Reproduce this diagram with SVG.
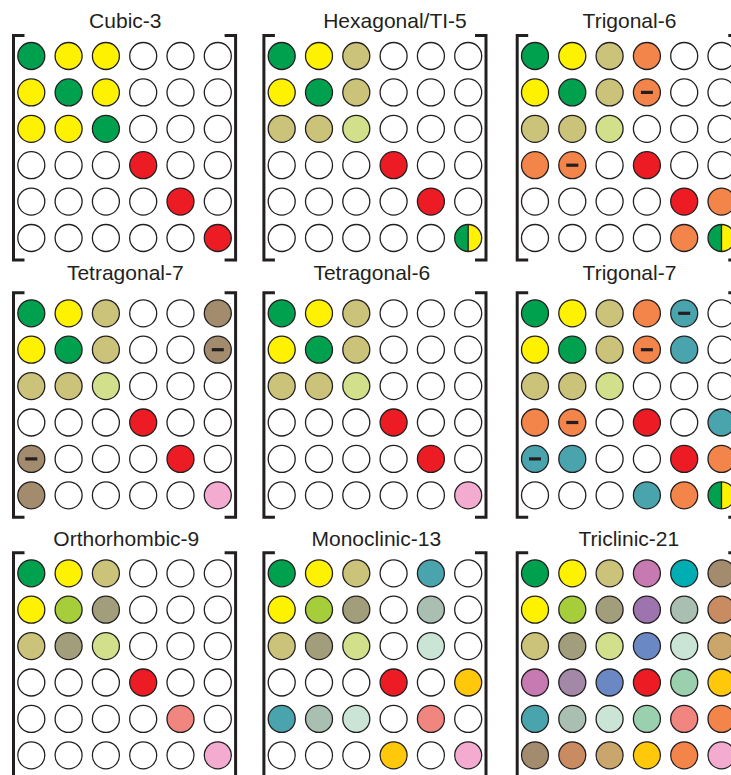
<svg xmlns="http://www.w3.org/2000/svg" width="731" height="775" viewBox="0 0 731 775">
<style>
text{font-family:"Liberation Sans",Arial,sans-serif;font-size:21px;fill:#231f20;text-anchor:middle}
circle{stroke:#231f20;stroke-width:1.3}
.br{fill:none;stroke:#231f20;stroke-width:3}
.w{fill:#fff}.g{fill:#00a14e}.y{fill:#fff200}.k{fill:#ccc37b}.l{fill:#d3e08b}.r{fill:#ed1c24}
.o{fill:#f3844a}.b{fill:#a38b6e}.p{fill:#f3acd0}.t{fill:#4aa4ae}.a{fill:#a6cd3a}.m{fill:#a29e7b}
.s{fill:#f1857f}.gg{fill:#a9bfb2}.mi{fill:#cae5d5}.go{fill:#ffc80b}.pu{fill:#c77ab1}.cy{fill:#00adb2}
.vi{fill:#9e74ae}.bl{fill:#6a89c4}.mv{fill:#a488a8}.mg{fill:#9bd0af}.bo{fill:#c98b61}.ta{fill:#caa66d}
.mn{fill:#231f20}
</style>
<defs>
<path id="brk" class="br" d="M-6.8-20.5H-17.8V204H-6.8M193.3-20.5H204.3V204H193.3"/>
<rect id="minus" x="-6" y="-1.6" width="12" height="3.2" class="mn"/>
<g id="half">
<path d="M0-13.5A13.5 13.5 0 0 0 0 13.5Z" fill="#00a14e"/>
<path d="M0-13.5A13.5 13.5 0 0 1 0 13.5Z" fill="#fff200"/>
<line x1="0" y1="-13.5" x2="0" y2="13.5" stroke="#231f20" stroke-width="1.3"/>
<circle r="13.5" fill="none"/>
</g>
</defs>

<g id="cubic-3">
<text x="125.3" y="27.5">Cubic-3</text>
<g transform="translate(31.3,56)">
<use href="#brk"/>
<circle cx="0" cy="0" r="13.5" class="g"/><circle cx="37.3" cy="0" r="13.5" class="y"/><circle cx="74.6" cy="0" r="13.5" class="y"/><circle cx="111.9" cy="0" r="13.5" class="w"/><circle cx="149.2" cy="0" r="13.5" class="w"/><circle cx="186.5" cy="0" r="13.5" class="w"/>
<circle cx="0" cy="36.4" r="13.5" class="y"/><circle cx="37.3" cy="36.4" r="13.5" class="g"/><circle cx="74.6" cy="36.4" r="13.5" class="y"/><circle cx="111.9" cy="36.4" r="13.5" class="w"/><circle cx="149.2" cy="36.4" r="13.5" class="w"/><circle cx="186.5" cy="36.4" r="13.5" class="w"/>
<circle cx="0" cy="72.8" r="13.5" class="y"/><circle cx="37.3" cy="72.8" r="13.5" class="y"/><circle cx="74.6" cy="72.8" r="13.5" class="g"/><circle cx="111.9" cy="72.8" r="13.5" class="w"/><circle cx="149.2" cy="72.8" r="13.5" class="w"/><circle cx="186.5" cy="72.8" r="13.5" class="w"/>
<circle cx="0" cy="109.2" r="13.5" class="w"/><circle cx="37.3" cy="109.2" r="13.5" class="w"/><circle cx="74.6" cy="109.2" r="13.5" class="w"/><circle cx="111.9" cy="109.2" r="13.5" class="r"/><circle cx="149.2" cy="109.2" r="13.5" class="w"/><circle cx="186.5" cy="109.2" r="13.5" class="w"/>
<circle cx="0" cy="145.6" r="13.5" class="w"/><circle cx="37.3" cy="145.6" r="13.5" class="w"/><circle cx="74.6" cy="145.6" r="13.5" class="w"/><circle cx="111.9" cy="145.6" r="13.5" class="w"/><circle cx="149.2" cy="145.6" r="13.5" class="r"/><circle cx="186.5" cy="145.6" r="13.5" class="w"/>
<circle cx="0" cy="182" r="13.5" class="w"/><circle cx="37.3" cy="182" r="13.5" class="w"/><circle cx="74.6" cy="182" r="13.5" class="w"/><circle cx="111.9" cy="182" r="13.5" class="w"/><circle cx="149.2" cy="182" r="13.5" class="w"/><circle cx="186.5" cy="182" r="13.5" class="r"/>
</g>
</g>

<g id="hexagonal-ti-5">
<text x="395" y="27.5">Hexagonal/TI-5</text>
<g transform="translate(281.7,56)">
<use href="#brk"/>
<circle cx="0" cy="0" r="13.5" class="g"/><circle cx="37.3" cy="0" r="13.5" class="y"/><circle cx="74.6" cy="0" r="13.5" class="k"/><circle cx="111.9" cy="0" r="13.5" class="w"/><circle cx="149.2" cy="0" r="13.5" class="w"/><circle cx="186.5" cy="0" r="13.5" class="w"/>
<circle cx="0" cy="36.4" r="13.5" class="y"/><circle cx="37.3" cy="36.4" r="13.5" class="g"/><circle cx="74.6" cy="36.4" r="13.5" class="k"/><circle cx="111.9" cy="36.4" r="13.5" class="w"/><circle cx="149.2" cy="36.4" r="13.5" class="w"/><circle cx="186.5" cy="36.4" r="13.5" class="w"/>
<circle cx="0" cy="72.8" r="13.5" class="k"/><circle cx="37.3" cy="72.8" r="13.5" class="k"/><circle cx="74.6" cy="72.8" r="13.5" class="l"/><circle cx="111.9" cy="72.8" r="13.5" class="w"/><circle cx="149.2" cy="72.8" r="13.5" class="w"/><circle cx="186.5" cy="72.8" r="13.5" class="w"/>
<circle cx="0" cy="109.2" r="13.5" class="w"/><circle cx="37.3" cy="109.2" r="13.5" class="w"/><circle cx="74.6" cy="109.2" r="13.5" class="w"/><circle cx="111.9" cy="109.2" r="13.5" class="r"/><circle cx="149.2" cy="109.2" r="13.5" class="w"/><circle cx="186.5" cy="109.2" r="13.5" class="w"/>
<circle cx="0" cy="145.6" r="13.5" class="w"/><circle cx="37.3" cy="145.6" r="13.5" class="w"/><circle cx="74.6" cy="145.6" r="13.5" class="w"/><circle cx="111.9" cy="145.6" r="13.5" class="w"/><circle cx="149.2" cy="145.6" r="13.5" class="r"/><circle cx="186.5" cy="145.6" r="13.5" class="w"/>
<circle cx="0" cy="182" r="13.5" class="w"/><circle cx="37.3" cy="182" r="13.5" class="w"/><circle cx="74.6" cy="182" r="13.5" class="w"/><circle cx="111.9" cy="182" r="13.5" class="w"/><circle cx="149.2" cy="182" r="13.5" class="w"/><use href="#half" x="186.5" y="182"/>
</g>
</g>

<g id="trigonal-6">
<text x="629.5" y="27.5">Trigonal-6</text>
<g transform="translate(535,56)">
<use href="#brk"/>
<circle cx="0" cy="0" r="13.5" class="g"/><circle cx="37.3" cy="0" r="13.5" class="y"/><circle cx="74.6" cy="0" r="13.5" class="k"/><circle cx="111.9" cy="0" r="13.5" class="o"/><circle cx="149.2" cy="0" r="13.5" class="w"/><circle cx="186.5" cy="0" r="13.5" class="w"/>
<circle cx="0" cy="36.4" r="13.5" class="y"/><circle cx="37.3" cy="36.4" r="13.5" class="g"/><circle cx="74.6" cy="36.4" r="13.5" class="k"/><circle cx="111.9" cy="36.4" r="13.5" class="o"/><use href="#minus" x="111.9" y="36.4"/><circle cx="149.2" cy="36.4" r="13.5" class="w"/><circle cx="186.5" cy="36.4" r="13.5" class="w"/>
<circle cx="0" cy="72.8" r="13.5" class="k"/><circle cx="37.3" cy="72.8" r="13.5" class="k"/><circle cx="74.6" cy="72.8" r="13.5" class="l"/><circle cx="111.9" cy="72.8" r="13.5" class="w"/><circle cx="149.2" cy="72.8" r="13.5" class="w"/><circle cx="186.5" cy="72.8" r="13.5" class="w"/>
<circle cx="0" cy="109.2" r="13.5" class="o"/><circle cx="37.3" cy="109.2" r="13.5" class="o"/><use href="#minus" x="37.3" y="109.2"/><circle cx="74.6" cy="109.2" r="13.5" class="w"/><circle cx="111.9" cy="109.2" r="13.5" class="r"/><circle cx="149.2" cy="109.2" r="13.5" class="w"/><circle cx="186.5" cy="109.2" r="13.5" class="w"/>
<circle cx="0" cy="145.6" r="13.5" class="w"/><circle cx="37.3" cy="145.6" r="13.5" class="w"/><circle cx="74.6" cy="145.6" r="13.5" class="w"/><circle cx="111.9" cy="145.6" r="13.5" class="w"/><circle cx="149.2" cy="145.6" r="13.5" class="r"/><circle cx="186.5" cy="145.6" r="13.5" class="o"/>
<circle cx="0" cy="182" r="13.5" class="w"/><circle cx="37.3" cy="182" r="13.5" class="w"/><circle cx="74.6" cy="182" r="13.5" class="w"/><circle cx="111.9" cy="182" r="13.5" class="w"/><circle cx="149.2" cy="182" r="13.5" class="o"/><use href="#half" x="186.5" y="182"/>
</g>
</g>

<g id="tetragonal-7">
<text x="125.3" y="279.5">Tetragonal-7</text>
<g transform="translate(31.3,313.3)">
<use href="#brk"/>
<circle cx="0" cy="0" r="13.5" class="g"/><circle cx="37.3" cy="0" r="13.5" class="y"/><circle cx="74.6" cy="0" r="13.5" class="k"/><circle cx="111.9" cy="0" r="13.5" class="w"/><circle cx="149.2" cy="0" r="13.5" class="w"/><circle cx="186.5" cy="0" r="13.5" class="b"/>
<circle cx="0" cy="36.4" r="13.5" class="y"/><circle cx="37.3" cy="36.4" r="13.5" class="g"/><circle cx="74.6" cy="36.4" r="13.5" class="k"/><circle cx="111.9" cy="36.4" r="13.5" class="w"/><circle cx="149.2" cy="36.4" r="13.5" class="w"/><circle cx="186.5" cy="36.4" r="13.5" class="b"/><use href="#minus" x="186.5" y="36.4"/>
<circle cx="0" cy="72.8" r="13.5" class="k"/><circle cx="37.3" cy="72.8" r="13.5" class="k"/><circle cx="74.6" cy="72.8" r="13.5" class="l"/><circle cx="111.9" cy="72.8" r="13.5" class="w"/><circle cx="149.2" cy="72.8" r="13.5" class="w"/><circle cx="186.5" cy="72.8" r="13.5" class="w"/>
<circle cx="0" cy="109.2" r="13.5" class="w"/><circle cx="37.3" cy="109.2" r="13.5" class="w"/><circle cx="74.6" cy="109.2" r="13.5" class="w"/><circle cx="111.9" cy="109.2" r="13.5" class="r"/><circle cx="149.2" cy="109.2" r="13.5" class="w"/><circle cx="186.5" cy="109.2" r="13.5" class="w"/>
<circle cx="0" cy="145.6" r="13.5" class="b"/><use href="#minus" x="0" y="145.6"/><circle cx="37.3" cy="145.6" r="13.5" class="w"/><circle cx="74.6" cy="145.6" r="13.5" class="w"/><circle cx="111.9" cy="145.6" r="13.5" class="w"/><circle cx="149.2" cy="145.6" r="13.5" class="r"/><circle cx="186.5" cy="145.6" r="13.5" class="w"/>
<circle cx="0" cy="182" r="13.5" class="b"/><circle cx="37.3" cy="182" r="13.5" class="w"/><circle cx="74.6" cy="182" r="13.5" class="w"/><circle cx="111.9" cy="182" r="13.5" class="w"/><circle cx="149.2" cy="182" r="13.5" class="w"/><circle cx="186.5" cy="182" r="13.5" class="p"/>
</g>
</g>

<g id="tetragonal-6">
<text x="371.8" y="279.5">Tetragonal-6</text>
<g transform="translate(281.7,313.3)">
<use href="#brk"/>
<circle cx="0" cy="0" r="13.5" class="g"/><circle cx="37.3" cy="0" r="13.5" class="y"/><circle cx="74.6" cy="0" r="13.5" class="k"/><circle cx="111.9" cy="0" r="13.5" class="w"/><circle cx="149.2" cy="0" r="13.5" class="w"/><circle cx="186.5" cy="0" r="13.5" class="w"/>
<circle cx="0" cy="36.4" r="13.5" class="y"/><circle cx="37.3" cy="36.4" r="13.5" class="g"/><circle cx="74.6" cy="36.4" r="13.5" class="k"/><circle cx="111.9" cy="36.4" r="13.5" class="w"/><circle cx="149.2" cy="36.4" r="13.5" class="w"/><circle cx="186.5" cy="36.4" r="13.5" class="w"/>
<circle cx="0" cy="72.8" r="13.5" class="k"/><circle cx="37.3" cy="72.8" r="13.5" class="k"/><circle cx="74.6" cy="72.8" r="13.5" class="l"/><circle cx="111.9" cy="72.8" r="13.5" class="w"/><circle cx="149.2" cy="72.8" r="13.5" class="w"/><circle cx="186.5" cy="72.8" r="13.5" class="w"/>
<circle cx="0" cy="109.2" r="13.5" class="w"/><circle cx="37.3" cy="109.2" r="13.5" class="w"/><circle cx="74.6" cy="109.2" r="13.5" class="w"/><circle cx="111.9" cy="109.2" r="13.5" class="r"/><circle cx="149.2" cy="109.2" r="13.5" class="w"/><circle cx="186.5" cy="109.2" r="13.5" class="w"/>
<circle cx="0" cy="145.6" r="13.5" class="w"/><circle cx="37.3" cy="145.6" r="13.5" class="w"/><circle cx="74.6" cy="145.6" r="13.5" class="w"/><circle cx="111.9" cy="145.6" r="13.5" class="w"/><circle cx="149.2" cy="145.6" r="13.5" class="r"/><circle cx="186.5" cy="145.6" r="13.5" class="w"/>
<circle cx="0" cy="182" r="13.5" class="w"/><circle cx="37.3" cy="182" r="13.5" class="w"/><circle cx="74.6" cy="182" r="13.5" class="w"/><circle cx="111.9" cy="182" r="13.5" class="w"/><circle cx="149.2" cy="182" r="13.5" class="w"/><circle cx="186.5" cy="182" r="13.5" class="p"/>
</g>
</g>

<g id="trigonal-7">
<text x="629.5" y="279.5">Trigonal-7</text>
<g transform="translate(535,313.3)">
<use href="#brk"/>
<circle cx="0" cy="0" r="13.5" class="g"/><circle cx="37.3" cy="0" r="13.5" class="y"/><circle cx="74.6" cy="0" r="13.5" class="k"/><circle cx="111.9" cy="0" r="13.5" class="o"/><circle cx="149.2" cy="0" r="13.5" class="t"/><use href="#minus" x="149.2" y="0"/><circle cx="186.5" cy="0" r="13.5" class="w"/>
<circle cx="0" cy="36.4" r="13.5" class="y"/><circle cx="37.3" cy="36.4" r="13.5" class="g"/><circle cx="74.6" cy="36.4" r="13.5" class="k"/><circle cx="111.9" cy="36.4" r="13.5" class="o"/><use href="#minus" x="111.9" y="36.4"/><circle cx="149.2" cy="36.4" r="13.5" class="t"/><circle cx="186.5" cy="36.4" r="13.5" class="w"/>
<circle cx="0" cy="72.8" r="13.5" class="k"/><circle cx="37.3" cy="72.8" r="13.5" class="k"/><circle cx="74.6" cy="72.8" r="13.5" class="l"/><circle cx="111.9" cy="72.8" r="13.5" class="w"/><circle cx="149.2" cy="72.8" r="13.5" class="w"/><circle cx="186.5" cy="72.8" r="13.5" class="w"/>
<circle cx="0" cy="109.2" r="13.5" class="o"/><circle cx="37.3" cy="109.2" r="13.5" class="o"/><use href="#minus" x="37.3" y="109.2"/><circle cx="74.6" cy="109.2" r="13.5" class="w"/><circle cx="111.9" cy="109.2" r="13.5" class="r"/><circle cx="149.2" cy="109.2" r="13.5" class="w"/><circle cx="186.5" cy="109.2" r="13.5" class="t"/>
<circle cx="0" cy="145.6" r="13.5" class="t"/><use href="#minus" x="0" y="145.6"/><circle cx="37.3" cy="145.6" r="13.5" class="t"/><circle cx="74.6" cy="145.6" r="13.5" class="w"/><circle cx="111.9" cy="145.6" r="13.5" class="w"/><circle cx="149.2" cy="145.6" r="13.5" class="r"/><circle cx="186.5" cy="145.6" r="13.5" class="o"/>
<circle cx="0" cy="182" r="13.5" class="w"/><circle cx="37.3" cy="182" r="13.5" class="w"/><circle cx="74.6" cy="182" r="13.5" class="w"/><circle cx="111.9" cy="182" r="13.5" class="t"/><circle cx="149.2" cy="182" r="13.5" class="o"/><use href="#half" x="186.5" y="182"/>
</g>
</g>

<g id="orthorhombic-9">
<text x="126.3" y="546">Orthorhombic-9</text>
<g transform="translate(31.3,573.3)">
<use href="#brk"/>
<circle cx="0" cy="0" r="13.5" class="g"/><circle cx="37.3" cy="0" r="13.5" class="y"/><circle cx="74.6" cy="0" r="13.5" class="k"/><circle cx="111.9" cy="0" r="13.5" class="w"/><circle cx="149.2" cy="0" r="13.5" class="w"/><circle cx="186.5" cy="0" r="13.5" class="w"/>
<circle cx="0" cy="36.4" r="13.5" class="y"/><circle cx="37.3" cy="36.4" r="13.5" class="a"/><circle cx="74.6" cy="36.4" r="13.5" class="m"/><circle cx="111.9" cy="36.4" r="13.5" class="w"/><circle cx="149.2" cy="36.4" r="13.5" class="w"/><circle cx="186.5" cy="36.4" r="13.5" class="w"/>
<circle cx="0" cy="72.8" r="13.5" class="k"/><circle cx="37.3" cy="72.8" r="13.5" class="m"/><circle cx="74.6" cy="72.8" r="13.5" class="l"/><circle cx="111.9" cy="72.8" r="13.5" class="w"/><circle cx="149.2" cy="72.8" r="13.5" class="w"/><circle cx="186.5" cy="72.8" r="13.5" class="w"/>
<circle cx="0" cy="109.2" r="13.5" class="w"/><circle cx="37.3" cy="109.2" r="13.5" class="w"/><circle cx="74.6" cy="109.2" r="13.5" class="w"/><circle cx="111.9" cy="109.2" r="13.5" class="r"/><circle cx="149.2" cy="109.2" r="13.5" class="w"/><circle cx="186.5" cy="109.2" r="13.5" class="w"/>
<circle cx="0" cy="145.6" r="13.5" class="w"/><circle cx="37.3" cy="145.6" r="13.5" class="w"/><circle cx="74.6" cy="145.6" r="13.5" class="w"/><circle cx="111.9" cy="145.6" r="13.5" class="w"/><circle cx="149.2" cy="145.6" r="13.5" class="s"/><circle cx="186.5" cy="145.6" r="13.5" class="w"/>
<circle cx="0" cy="182" r="13.5" class="w"/><circle cx="37.3" cy="182" r="13.5" class="w"/><circle cx="74.6" cy="182" r="13.5" class="w"/><circle cx="111.9" cy="182" r="13.5" class="w"/><circle cx="149.2" cy="182" r="13.5" class="w"/><circle cx="186.5" cy="182" r="13.5" class="p"/>
</g>
</g>

<g id="monoclinic-13">
<text x="376.3" y="546">Monoclinic-13</text>
<g transform="translate(281.7,573.3)">
<use href="#brk"/>
<circle cx="0" cy="0" r="13.5" class="g"/><circle cx="37.3" cy="0" r="13.5" class="y"/><circle cx="74.6" cy="0" r="13.5" class="k"/><circle cx="111.9" cy="0" r="13.5" class="w"/><circle cx="149.2" cy="0" r="13.5" class="t"/><circle cx="186.5" cy="0" r="13.5" class="w"/>
<circle cx="0" cy="36.4" r="13.5" class="y"/><circle cx="37.3" cy="36.4" r="13.5" class="a"/><circle cx="74.6" cy="36.4" r="13.5" class="m"/><circle cx="111.9" cy="36.4" r="13.5" class="w"/><circle cx="149.2" cy="36.4" r="13.5" class="gg"/><circle cx="186.5" cy="36.4" r="13.5" class="w"/>
<circle cx="0" cy="72.8" r="13.5" class="k"/><circle cx="37.3" cy="72.8" r="13.5" class="m"/><circle cx="74.6" cy="72.8" r="13.5" class="l"/><circle cx="111.9" cy="72.8" r="13.5" class="w"/><circle cx="149.2" cy="72.8" r="13.5" class="mi"/><circle cx="186.5" cy="72.8" r="13.5" class="w"/>
<circle cx="0" cy="109.2" r="13.5" class="w"/><circle cx="37.3" cy="109.2" r="13.5" class="w"/><circle cx="74.6" cy="109.2" r="13.5" class="w"/><circle cx="111.9" cy="109.2" r="13.5" class="r"/><circle cx="149.2" cy="109.2" r="13.5" class="w"/><circle cx="186.5" cy="109.2" r="13.5" class="go"/>
<circle cx="0" cy="145.6" r="13.5" class="t"/><circle cx="37.3" cy="145.6" r="13.5" class="gg"/><circle cx="74.6" cy="145.6" r="13.5" class="mi"/><circle cx="111.9" cy="145.6" r="13.5" class="w"/><circle cx="149.2" cy="145.6" r="13.5" class="s"/><circle cx="186.5" cy="145.6" r="13.5" class="w"/>
<circle cx="0" cy="182" r="13.5" class="w"/><circle cx="37.3" cy="182" r="13.5" class="w"/><circle cx="74.6" cy="182" r="13.5" class="w"/><circle cx="111.9" cy="182" r="13.5" class="go"/><circle cx="149.2" cy="182" r="13.5" class="w"/><circle cx="186.5" cy="182" r="13.5" class="p"/>
</g>
</g>

<g id="triclinic-21">
<text x="628.8" y="546">Triclinic-21</text>
<g transform="translate(535,573.3)">
<use href="#brk"/>
<circle cx="0" cy="0" r="13.5" class="g"/><circle cx="37.3" cy="0" r="13.5" class="y"/><circle cx="74.6" cy="0" r="13.5" class="k"/><circle cx="111.9" cy="0" r="13.5" class="pu"/><circle cx="149.2" cy="0" r="13.5" class="cy"/><circle cx="186.5" cy="0" r="13.5" class="b"/>
<circle cx="0" cy="36.4" r="13.5" class="y"/><circle cx="37.3" cy="36.4" r="13.5" class="a"/><circle cx="74.6" cy="36.4" r="13.5" class="m"/><circle cx="111.9" cy="36.4" r="13.5" class="vi"/><circle cx="149.2" cy="36.4" r="13.5" class="gg"/><circle cx="186.5" cy="36.4" r="13.5" class="bo"/>
<circle cx="0" cy="72.8" r="13.5" class="k"/><circle cx="37.3" cy="72.8" r="13.5" class="m"/><circle cx="74.6" cy="72.8" r="13.5" class="l"/><circle cx="111.9" cy="72.8" r="13.5" class="bl"/><circle cx="149.2" cy="72.8" r="13.5" class="mi"/><circle cx="186.5" cy="72.8" r="13.5" class="ta"/>
<circle cx="0" cy="109.2" r="13.5" class="pu"/><circle cx="37.3" cy="109.2" r="13.5" class="mv"/><circle cx="74.6" cy="109.2" r="13.5" class="bl"/><circle cx="111.9" cy="109.2" r="13.5" class="r"/><circle cx="149.2" cy="109.2" r="13.5" class="mg"/><circle cx="186.5" cy="109.2" r="13.5" class="go"/>
<circle cx="0" cy="145.6" r="13.5" class="t"/><circle cx="37.3" cy="145.6" r="13.5" class="gg"/><circle cx="74.6" cy="145.6" r="13.5" class="mi"/><circle cx="111.9" cy="145.6" r="13.5" class="mg"/><circle cx="149.2" cy="145.6" r="13.5" class="s"/><circle cx="186.5" cy="145.6" r="13.5" class="o"/>
<circle cx="0" cy="182" r="13.5" class="b"/><circle cx="37.3" cy="182" r="13.5" class="bo"/><circle cx="74.6" cy="182" r="13.5" class="ta"/><circle cx="111.9" cy="182" r="13.5" class="go"/><circle cx="149.2" cy="182" r="13.5" class="o"/><circle cx="186.5" cy="182" r="13.5" class="p"/>
</g>
</g>
</svg>
